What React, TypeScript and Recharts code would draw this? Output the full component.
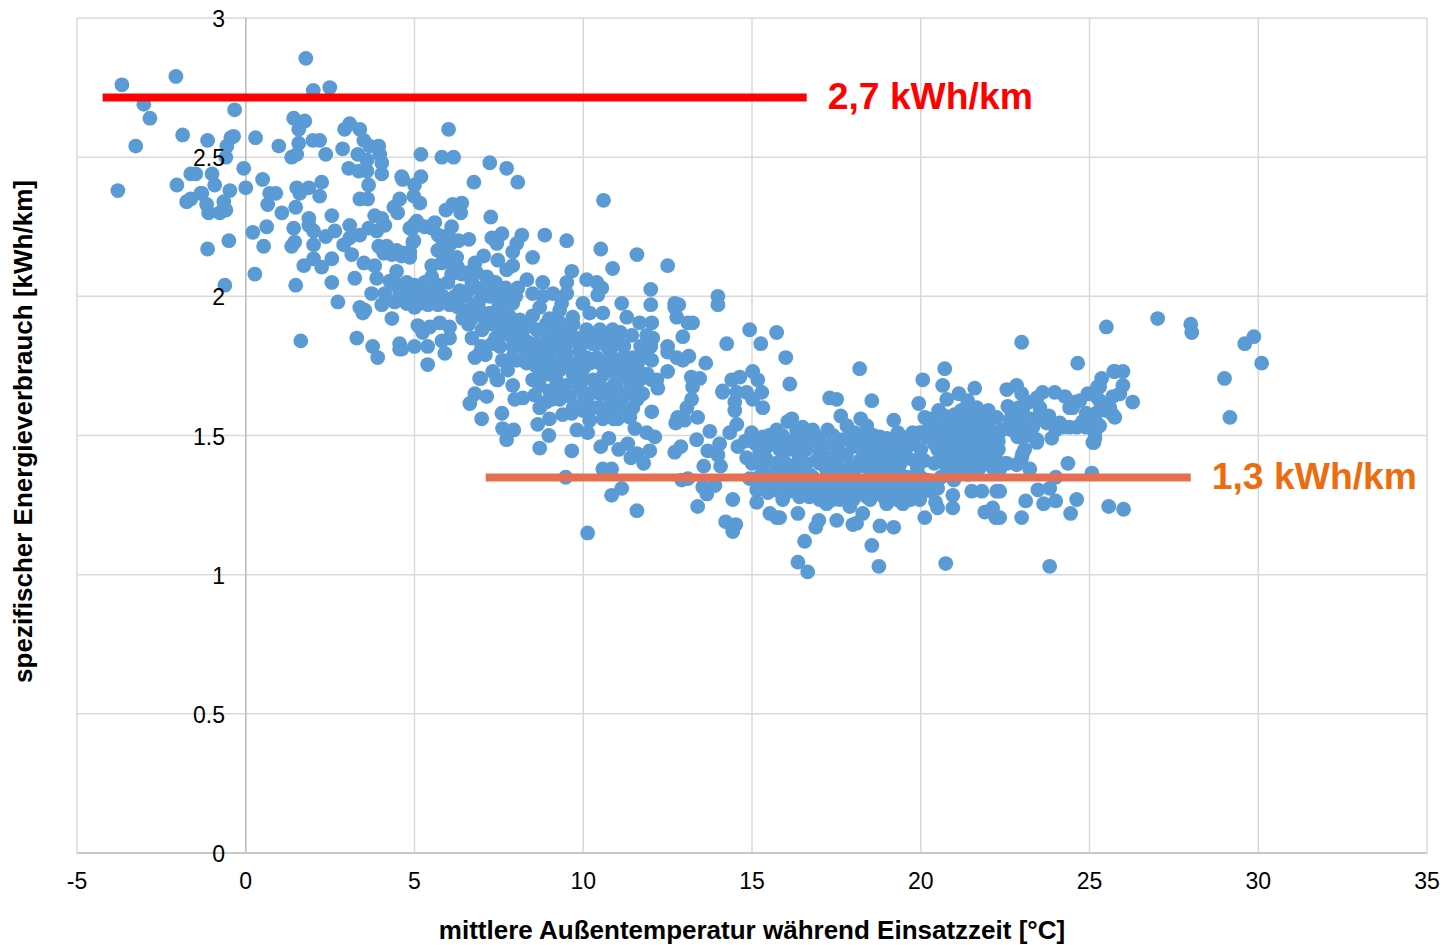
import React from 'react';
import { ScatterChart, Scatter, XAxis, YAxis, CartesianGrid, ReferenceLine } from 'recharts';

const xTicks = [-5, 0, 5, 10, 15, 20, 25, 30, 35];
const yTicks = [0, 0.5, 1, 1.5, 2, 2.5, 3];

const winterLevel = [{ temp: -4.24, energy: 2.714 }, { temp: 16.62, energy: 2.714 }];
const summerLevel = [{ temp: 7.11, energy: 1.349 }, { temp: 28.0, energy: 1.349 }];

// [temperature °C, kWh/km], grouped by temperature
const below0 = [
  [-3.79, 2.38], [-3.67, 2.76], [-3.02, 2.69], [-2.84, 2.64], [-3.26, 2.54], [-2.07, 2.79], [-1.87, 2.58], [-2.04, 2.4],
  [-1.75, 2.34], [-1.63, 2.35], [-1.63, 2.44], [-1.48, 2.44], [-1.33, 2.37], [-1.13, 2.56], [-1.16, 2.33], [-1.1, 2.3],
  [-1.0, 2.44], [-0.92, 2.4], [-1.13, 2.17], [-0.77, 2.3], [-0.65, 2.34], [-0.59, 2.31], [-0.47, 2.38], [-0.5, 2.2],
  [-0.62, 2.04], [-0.59, 2.5], [-0.56, 2.54], [-0.44, 2.57], [-0.36, 2.575], [-0.33, 2.67], [-0.06, 2.46], [-1.3, 2.37],
];
const from0to3 = [
  [0, 2.39], [0.5, 2.42], [0.29, 2.57], [0.27, 2.08], [0.21, 2.23], [0.62, 2.25], [0.53, 2.18], [0.71, 2.37], [0.89, 2.37],
  [0.65, 2.33], [0.98, 2.54], [1.07, 2.3], [1.42, 2.64], [1.75, 2.63], [1.57, 2.6], [1.57, 2.55], [1.51, 2.51], [1.36, 2.5],
  [1.99, 2.56], [2.19, 2.56], [2.37, 2.51], [2.87, 2.53], [1.78, 2.855], [2.0, 2.74], [2.49, 2.75], [1.48, 2.32], [1.51, 2.39],
  [1.6, 2.37], [1.87, 2.39], [2.25, 2.41], [2.19, 2.36], [2.55, 2.29], [1.42, 2.245], [1.45, 2.195], [1.36, 2.18], [1.87, 2.28],
  [1.87, 2.255], [2.01, 2.235], [2.01, 2.185], [2.37, 2.215], [2.64, 2.235], [1.72, 2.11], [2.01, 2.135], [2.25, 2.105],
  [2.55, 2.135], [1.48, 2.04], [2.55, 2.05], [2.73, 1.98], [1.63, 1.84], [2.9, 2.185],
];
const from3to5 = [
  [3.08, 2.62], [2.93, 2.6], [3.38, 2.6], [3.5, 2.56], [3.67, 2.54], [3.94, 2.54], [3.32, 2.51], [3.59, 2.49], [3.97, 2.51],
  [4.03, 2.48], [3.05, 2.46], [3.35, 2.45], [3.59, 2.45], [4.03, 2.44], [4.62, 2.43], [3.64, 2.4], [5.0, 2.4], [4.98, 2.36],
  [3.38, 2.35], [3.61, 2.35], [4.56, 2.35], [4.39, 2.32], [4.5, 2.3], [3.08, 2.255], [3.08, 2.21], [3.38, 2.22], [3.64, 2.245],
  [3.88, 2.235], [4.12, 2.255], [3.82, 2.29], [4.03, 2.28], [3.94, 2.18], [4.18, 2.18], [4.09, 2.155], [4.47, 2.165], [4.33, 2.15],
  [4.62, 2.145], [4.86, 2.16], [4.98, 2.2], [3.14, 2.15], [3.5, 2.12], [3.82, 2.11], [3.88, 2.065], [4.47, 2.09], [4.27, 2.055],
  [4.71, 2.04], [4.47, 2.04], [3.73, 2.01], [4.12, 2.01], [4.03, 1.97], [4.41, 1.98], [4.77, 1.975], [4.98, 2.02], [4.86, 2.245],
  [3.23, 2.065], [3.38, 1.96], [3.53, 1.95], [4.33, 1.92], [3.76, 1.82], [3.91, 1.78], [3.29, 1.85], [3.47, 1.94], [4.56, 1.83],
  [4.62, 1.81], [4.65, 2.42], [4.77, 2.05], [4.56, 2.01], [4.77, 1.975], [4.92, 2.01], [5.0, 1.82], [4.56, 1.81],
];
const from5to8 = [
  [5.07, 2.27], [5.19, 2.51], [5.81, 2.5], [6.16, 2.5], [6.01, 2.6], [7.23, 2.48], [7.73, 2.46], [8.06, 2.41], [6.76, 2.41],
  [5.19, 2.43], [5.16, 2.335], [5.93, 2.31], [6.13, 2.33], [6.4, 2.335], [6.37, 2.3], [7.26, 2.285], [5.0, 2.26], [4.95, 2.245],
  [5.3, 2.25], [5.6, 2.265], [5.51, 2.245], [6.1, 2.25], [6.61, 2.205], [7.29, 2.21], [7.59, 2.225], [7.44, 2.19], [7.91, 2.16],
  [7.05, 2.145], [7.47, 2.13], [6.79, 2.12], [7.73, 2.095], [7.91, 2.11], [5.51, 2.11], [5.51, 2.07], [5.16, 1.975], [5.24, 2.01],
  [5.54, 2.01], [5.84, 2.0], [5.99, 2.05], [6.34, 2.02], [6.04, 1.97], [5.84, 2.2], [5.69, 2.165], [6.04, 2.185], [6.25, 2.14],
  [5.96, 2.155], [6.28, 2.105], [6.58, 2.085], [6.84, 2.085], [7.14, 2.07], [7.32, 2.05], [6.99, 2.01], [7.23, 2.0], [7.61, 2.0],
  [7.91, 1.975], [6.93, 1.95], [7.23, 1.94], [7.61, 1.94], [7.11, 1.905], [6.43, 1.92], [6.04, 1.89], [5.75, 1.905], [5.45, 1.89],
  [5.1, 1.895], [5.24, 1.87], [6.04, 1.85], [5.81, 1.84], [5.39, 1.82], [5.9, 1.795], [5.39, 1.755], [6.7, 1.85], [6.99, 1.82],
  [6.79, 1.78], [6.93, 1.795], [7.47, 1.855], [7.82, 1.86], [7.91, 1.82], [7.53, 1.82], [6.93, 1.705], [7.32, 1.73], [7.47, 1.7],
  [7.76, 1.735], [7.91, 1.68], [6.96, 1.705], [7.44, 1.7], [7.97, 1.63], [7.14, 1.64], [6.79, 1.65], [6.64, 1.615], [6.99, 1.56],
  [7.59, 1.58], [7.61, 1.525], [7.94, 1.52], [7.73, 1.485], [7.0, 1.88], [7.4, 1.9], [7.8, 1.87], [6.6, 1.95], [6.9, 1.98],
  [7.5, 1.97], [7.3, 1.83], [7.1, 1.79], [7.6, 1.77], [7.9, 1.78], [6.6, 1.9], [7.7, 2.03], [7.4, 2.05], [6.7, 2.05], [6.5, 2.0],
  [6.3, 1.96],
];
const from8to12 = [
  [8.18, 2.22], [8.03, 2.19], [8.86, 2.22], [9.51, 2.2], [10.52, 2.17], [11.59, 2.15], [10.6, 2.345], [10.87, 2.1], [8.5, 2.14],
  [9.66, 2.09], [9.51, 2.05], [10.1, 2.06], [10.4, 2.05], [10.55, 2.03], [10.43, 2.005], [11.14, 1.975], [8.12, 1.915], [8.62, 1.88],
  [8.92, 1.85], [8.36, 1.835], [8.71, 1.82], [8.18, 1.82], [8.18, 1.77], [8.5, 1.78], [8.03, 1.77], [8.33, 1.76], [9.0, 1.76], [9.3, 1.735],
  [8.71, 1.96], [9.0, 1.92], [9.3, 1.905], [9.6, 1.88], [9.69, 1.925], [9.99, 1.975], [10.19, 1.94], [10.58, 1.94], [9.51, 2.01],
  [9.36, 1.975], [9.3, 1.95], [8.33, 2.06], [8.8, 2.05], [8.06, 2.03], [8.5, 2.01], [8.8, 2.0], [9.1, 2.01], [10.49, 1.88], [10.87, 1.88],
  [11.29, 1.925], [11.67, 1.905], [11.44, 1.86], [11.88, 1.86], [10.28, 1.83], [10.7, 1.82], [11.08, 1.83], [11.47, 1.78], [10.99, 1.77],
  [10.49, 1.76], [10.1, 1.78], [9.81, 1.76], [9.51, 1.795], [10.79, 1.735], [11.38, 1.71], [11.67, 1.7], [8.21, 1.635], [8.56, 1.645],
  [8.65, 1.54], [9.0, 1.56], [9.39, 1.575], [9.66, 1.58], [8.98, 1.5], [8.71, 1.455], [9.66, 1.445], [9.48, 1.35], [8.71, 1.6], [9.07, 1.63],
  [9.3, 1.63], [10.04, 1.645], [10.49, 1.65], [10.99, 1.67], [9.99, 1.59], [10.49, 1.6], [10.79, 1.6], [10.19, 1.555], [10.58, 1.56],
  [9.81, 1.52], [10.13, 1.51], [10.76, 1.49], [10.52, 1.46], [11.05, 1.45], [11.32, 1.47], [11.59, 1.435], [11.41, 1.42], [11.79, 1.4],
  [11.97, 1.445], [10.58, 1.38], [10.84, 1.38], [11.14, 1.31], [10.84, 1.285], [11.59, 1.23], [10.13, 1.15], [11.08, 1.615], [11.47, 1.6],
  [11.02, 1.56], [11.38, 1.565], [11.53, 1.525], [11.88, 1.51], [11.32, 1.71], [11.47, 1.665], [11.76, 1.65], [8.2, 1.87], [8.5, 1.93],
  [8.9, 1.9], [9.2, 1.85], [9.5, 1.83], [9.8, 1.85], [10.1, 1.88], [10.4, 1.83], [10.8, 1.8], [11.1, 1.87], [8.8, 1.79], [9.1, 1.8],
  [9.4, 1.77], [9.7, 1.72], [10.0, 1.74], [10.3, 1.7], [10.6, 1.72], [10.9, 1.68], [11.2, 1.72], [11.6, 1.75], [11.9, 1.78], [9.2, 1.7],
  [9.5, 1.68], [9.9, 1.67], [10.2, 1.65], [10.5, 1.68], [10.8, 1.63], [11.2, 1.64], [11.6, 1.63], [8.9, 1.72], [8.7, 1.68], [9.0, 1.66],
  [8.5, 1.7], [8.0, 2.0], [11.9, 1.72],
];
const from12to16 = [
  [12.5, 2.11], [12.0, 2.025], [12.0, 1.97], [13.99, 2.0], [13.99, 1.97], [12.71, 1.975], [12.83, 1.97], [12.71, 1.96], [12.77, 1.925],
  [13.1, 1.905], [13.24, 1.905], [12.95, 1.855], [14.25, 1.83], [12.5, 1.82], [12.5, 1.8], [12.77, 1.78], [12.95, 1.77], [13.13, 1.785],
  [13.63, 1.76], [12.03, 1.77], [12.5, 1.73], [13.2, 1.71], [13.45, 1.705], [13.24, 1.675], [14.4, 1.7], [14.13, 1.66], [12.03, 1.905],
  [12.06, 1.85], [12.18, 1.7], [12.03, 1.7], [12.21, 1.67], [12.03, 1.585], [12.12, 1.495], [13.21, 1.63], [13.07, 1.6], [12.8, 1.565],
  [12.74, 1.545], [13.39, 1.565], [13.0, 1.555], [15.26, 1.83], [14.93, 1.88], [14.13, 1.655], [14.64, 1.71], [15.02, 1.73], [15.17, 1.7],
  [15.29, 1.655], [14.55, 1.655], [14.84, 1.655], [15.02, 1.63], [15.32, 1.6], [14.49, 1.62], [14.49, 1.59], [13.75, 1.515], [13.36, 1.485],
  [12.89, 1.46], [12.71, 1.44], [14.55, 1.54], [14.34, 1.51], [14.04, 1.47], [13.69, 1.445], [13.99, 1.43], [14.07, 1.39], [13.57, 1.39],
  [14.99, 1.51], [15.32, 1.495], [15.73, 1.52], [15.91, 1.495], [14.58, 1.46], [14.84, 1.42], [15.23, 1.44], [15.44, 1.46], [15.82, 1.45],
  [14.43, 1.27], [13.39, 1.245], [14.22, 1.19], [14.52, 1.18], [14.43, 1.155], [12.92, 1.34], [13.1, 1.345], [13.54, 1.315], [13.66, 1.29],
  [13.9, 1.32], [14.93, 1.345], [15.14, 1.305], [15.14, 1.26], [15.47, 1.295], [15.67, 1.305], [15.91, 1.27], [15.53, 1.22], [15.73, 1.205],
  [15.82, 1.205], [15.5, 1.5], [15.6, 1.47], [15.9, 1.45], [15.4, 1.42], [15.7, 1.4], [15.3, 1.39], [15.6, 1.36], [15.9, 1.37], [15.2, 1.35],
  [15.5, 1.33], [15.8, 1.32], [15.3, 1.31], [15.73, 1.87], [16.0, 1.78],
];
const from16to20 = [
  [16.12, 1.685], [16.18, 1.56], [16.5, 1.53], [16.06, 1.55], [16.36, 1.22], [16.56, 1.12], [16.36, 1.045], [16.65, 1.01], [16.98, 1.195],
  [16.89, 1.17], [18.19, 1.74], [17.3, 1.635], [17.51, 1.63], [18.55, 1.625], [17.63, 1.57], [18.22, 1.56], [18.4, 1.535], [19.2, 1.555],
  [17.51, 1.195], [17.99, 1.18], [18.1, 1.185], [18.28, 1.22], [18.79, 1.175], [19.2, 1.17], [18.55, 1.105], [18.76, 1.03], [18.99, 1.255],
  [19.47, 1.255], [19.97, 1.27], [19.76, 1.28], [16.41, 1.28], [16.8, 1.295], [17.21, 1.255], [17.6, 1.27], [17.9, 1.245], [18.4, 1.28],
  [18.7, 1.295], [16.12, 1.315], [16.62, 1.315], [17.1, 1.315], [17.51, 1.295], [18.1, 1.305], [18.49, 1.315], [19.29, 1.295], [16.32, 1.52],
  [16.8, 1.52], [17.24, 1.52], [16.5, 1.47], [16.92, 1.48], [16.12, 1.45], [17.81, 1.535], [17.69, 1.485], [18.04, 1.51], [17.51, 1.465],
  [18.1, 1.47], [18.49, 1.47], [18.79, 1.495], [18.87, 1.46], [19.32, 1.51], [19.44, 1.495], [19.76, 1.51], [19.97, 1.51], [16.0, 1.4],
  [16.4, 1.42], [16.9, 1.41], [17.3, 1.42], [17.8, 1.43], [18.2, 1.41], [18.7, 1.42], [19.2, 1.41], [19.6, 1.42], [16.3, 1.37], [16.7, 1.36],
  [17.2, 1.38], [17.6, 1.37], [18.0, 1.36], [18.5, 1.38], [18.9, 1.37], [19.4, 1.36], [19.9, 1.38], [16.6, 1.45], [17.0, 1.44], [17.4, 1.47],
  [18.3, 1.44], [18.7, 1.45], [19.1, 1.44], [19.6, 1.46], [16.2, 1.33], [16.9, 1.33], [17.4, 1.33], [17.9, 1.32], [18.3, 1.33], [18.8, 1.34],
  [19.3, 1.33], [19.8, 1.32], [16.2, 1.47], [16.4, 1.43], [16.1, 1.3], [19.94, 1.615],
];
const from20to24 = [
  [20.06, 1.7], [20.71, 1.74], [20.65, 1.68], [20.77, 1.63], [21.13, 1.65], [21.6, 1.67], [20.53, 1.59], [20.12, 1.565], [20.27, 1.56],
  [21.39, 1.625], [21.36, 1.59], [21.66, 1.6], [21.0, 1.575], [22.0, 1.59], [22.25, 1.565], [22.55, 1.665], [22.84, 1.68], [22.99, 1.65],
  [22.58, 1.605], [23.61, 1.655], [23.97, 1.655], [23.44, 1.635], [23.53, 1.6], [23.02, 1.59], [22.99, 1.835], [20.12, 1.205], [20.5, 1.24],
  [20.95, 1.24], [20.44, 1.26], [20.95, 1.285], [20.74, 1.04], [21.51, 1.3], [21.81, 1.3], [22.25, 1.3], [21.9, 1.225], [22.13, 1.24],
  [22.22, 1.205], [23.11, 1.265], [23.64, 1.255], [22.99, 1.205], [23.82, 1.03], [22.34, 1.3], [22.34, 1.205], [20.47, 1.315], [20.5, 1.31],
  [20.98, 1.34], [20.18, 1.495], [20.1, 1.41], [20.0, 1.45], [20.2, 1.34], [20.6, 1.35], [20.4, 1.54], [20.8, 1.55], [21.2, 1.56], [21.6, 1.55],
  [22.0, 1.54], [22.4, 1.52], [20.3, 1.49], [20.7, 1.5], [21.1, 1.51], [21.5, 1.5], [21.9, 1.5], [22.3, 1.48], [20.5, 1.45], [20.9, 1.46],
  [21.3, 1.47], [21.7, 1.46], [22.1, 1.45], [20.6, 1.41], [21.0, 1.42], [21.4, 1.43], [21.8, 1.42], [22.2, 1.43], [20.8, 1.38], [21.2, 1.39],
  [21.6, 1.38], [21.0, 1.36], [21.4, 1.36], [23.02, 1.435], [22.87, 1.495], [23.44, 1.485], [23.88, 1.49], [23.14, 1.5], [23.73, 1.545],
  [22.55, 1.4], [22.84, 1.395], [22.13, 1.385], [21.75, 1.385], [20.77, 1.385], [21.15, 1.37], [22.64, 1.555], [22.93, 1.545], [23.14, 1.51],
  [23.44, 1.475], [22.93, 1.495], [23.08, 1.45], [22.99, 1.42], [22.49, 1.4], [22.34, 1.38], [23.23, 1.38], [23.47, 1.305], [23.82, 1.31],
  [23.32, 1.53],
];
const above24 = [
  [24.27, 1.64], [24.65, 1.76], [25.36, 1.705], [25.72, 1.73], [25.24, 1.675], [24.95, 1.65], [24.56, 1.62], [24.41, 1.6], [25.69, 1.64],
  [25.3, 1.625], [25.69, 1.575], [25.21, 1.545], [25.01, 1.555], [24.62, 1.53], [24.12, 1.545], [25.16, 1.49], [25.1, 1.475], [25.5, 1.89],
  [27.02, 1.92], [28.0, 1.9], [28.03, 1.87], [29.87, 1.855], [29.6, 1.83], [30.1, 1.76], [29.0, 1.705], [29.16, 1.565], [26.28, 1.62],
  [25.75, 1.73], [25.99, 1.73], [25.99, 1.68], [25.3, 1.675], [25.75, 1.565], [25.9, 1.65], [25.6, 1.6], [24.71, 1.625], [24.5, 1.6],
  [25.5, 1.59], [25.01, 1.565], [25.3, 1.535], [25.16, 1.51], [25.13, 1.475], [24.2, 1.53], [24.36, 1.4], [25.07, 1.365], [24.0, 1.35],
  [24.0, 1.265], [24.62, 1.27], [24.44, 1.22], [25.57, 1.245], [26.01, 1.235],
];
// points inside the solid parts of the cloud, estimated
const denseCold = [
  [4.95, 2.195], [4.65, 2.155], [4.86, 2.14], [5.7, 2.22], [6.0, 2.22], [6.3, 2.2], [5.8, 2.12], [6.1, 2.12], [6.4, 2.08], [6.1, 2.08],
  [4.6, 2.04], [5.0, 2.04], [5.3, 2.05], [5.7, 2.04], [6.2, 2.0], [5.0, 1.96], [5.4, 1.97], [5.7, 1.97], [6.6, 2.02], [6.8, 1.97],
  [7.0, 2.03], [7.2, 2.03], [7.5, 2.02], [7.8, 2.0], [6.7, 1.92], [7.0, 1.93], [7.4, 1.93], [7.8, 1.93], [7.9, 1.9], [7.3, 1.9], [7.6, 1.89],
  [7.4, 1.85], [8.0, 1.85], [8.4, 1.8], [8.6, 1.8], [8.9, 1.77], [9.1, 1.83],
];
const denseMid = [
  [8.3, 1.9], [8.6, 1.83], [8.9, 1.82], [9.1, 1.88], [9.4, 1.86], [9.7, 1.9], [9.9, 1.82], [10.2, 1.85], [10.6, 1.85], [10.9, 1.85], [11.2, 1.82],
  [11.3, 1.76], [11.7, 1.82], [12.0, 1.82], [8.6, 1.75], [8.8, 1.73], [9.1, 1.74], [9.3, 1.8], [9.6, 1.75], [9.9, 1.8], [10.2, 1.76], [10.4, 1.78],
  [10.7, 1.76], [11.0, 1.73], [11.2, 1.78], [11.5, 1.73], [11.7, 1.78], [9.3, 1.66], [9.6, 1.64], [9.8, 1.7], [10.0, 1.7], [10.3, 1.66], [10.7, 1.66],
  [11.0, 1.7], [11.4, 1.68], [11.1, 1.6], [10.9, 1.56], [10.3, 1.6], [10.0, 1.62], [9.7, 1.6], [8.9, 1.62], [14.8, 1.48], [15.1, 1.47], [15.0, 1.4], [15.3, 1.43],
];
const denseBand = [
  [15.9, 1.5], [16.3, 1.49], [16.7, 1.5], [17.0, 1.49], [17.4, 1.5], [17.9, 1.49], [18.3, 1.49], [18.6, 1.5], [19.0, 1.49], [19.2, 1.47], [19.8, 1.47],
  [15.9, 1.41], [16.2, 1.39], [16.6, 1.4], [17.0, 1.4], [17.5, 1.4], [17.9, 1.39], [18.3, 1.39], [18.7, 1.39], [19.1, 1.39], [19.4, 1.4], [19.8, 1.41],
  [16.4, 1.35], [16.8, 1.35], [17.3, 1.36], [17.7, 1.34], [18.1, 1.34], [18.6, 1.35], [19.1, 1.35], [19.6, 1.35], [20.0, 1.35], [16.0, 1.34], [16.5, 1.31],
  [16.9, 1.31], [17.3, 1.3], [17.7, 1.31], [18.2, 1.29], [18.6, 1.3], [19.0, 1.3], [19.5, 1.3], [20.0, 1.31], [20.3, 1.3], [16.7, 1.28], [17.0, 1.27],
  [17.4, 1.27], [17.8, 1.29], [18.0, 1.27], [18.5, 1.27], [18.9, 1.28], [19.3, 1.27], [19.7, 1.27], [17.1, 1.46], [17.6, 1.44], [18.0, 1.46], [18.5, 1.43],
  [18.9, 1.42], [19.3, 1.44], [19.4, 1.47],
];
const denseWarm = [
  [20.2, 1.52], [20.6, 1.52], [21.0, 1.53], [21.4, 1.53], [21.8, 1.52], [22.2, 1.51], [20.4, 1.47], [20.8, 1.48], [21.2, 1.49], [21.6, 1.48], [22.0, 1.47],
  [22.3, 1.45], [20.6, 1.43], [21.0, 1.44], [21.4, 1.45], [21.8, 1.44], [22.1, 1.41], [20.4, 1.4], [20.9, 1.4], [21.3, 1.41], [21.7, 1.4], [22.0, 1.41],
  [20.7, 1.57], [21.2, 1.59], [21.6, 1.57], [21.9, 1.57], [22.7, 1.52], [23.0, 1.53], [23.5, 1.56], [23.8, 1.57], [24.0, 1.52], [24.4, 1.53], [24.8, 1.55],
  [24.9, 1.58], [25.2, 1.58], [25.4, 1.6], [25.2, 1.64], [24.9, 1.53], [22.9, 1.6], [22.7, 1.58], [23.2, 1.62], [23.3, 1.56],
];

const allPoints = [
  ...below0, ...from0to3, ...from3to5, ...from5to8, ...from8to12, ...from12to16, ...from16to20, ...from20to24, ...above24,
  ...denseCold, ...denseMid, ...denseBand, ...denseWarm,
].map(([temp, energy]) => ({ temp, energy }));

const FONT = '"Liberation Sans", Arial, sans-serif';

const YTick = ({ y, payload }: any) => (
  <text x={225} y={y} dy={9} textAnchor="end" fontSize={23} fontFamily={FONT} fill="#000">{payload.value}</text>
);

const Dot = ({ cx, cy }: any) => <circle cx={cx} cy={cy} r={7.4} fill="#5b9bd5" />;
const NoDot = () => null;

const App = () => (
  <div style={{ position: 'absolute', left: 0, top: 0 }}>
    <ScatterChart width={1449} height={945} margin={{ top: 18, right: 22, bottom: 0, left: 0 }}>
      <CartesianGrid stroke="#d9d9d9" strokeWidth={1.5} />
      <XAxis
        type="number"
        dataKey="temp"
        domain={[-5, 35]}
        ticks={xTicks}
        interval={0}
        height={92}
        tickLine={false}
        axisLine={{ stroke: '#bfbfbf', strokeWidth: 1.5 }}
        tick={{ fontSize: 23, fontFamily: FONT, fill: '#000' }}
        tickMargin={14}
        label={{ value: 'mittlere Außentemperatur während Einsatzzeit [°C]', position: 'insideBottom', offset: 6, dx: 0, fontSize: 26, fontWeight: 700, fontFamily: FONT, fill: '#000' }}
      />
      <YAxis
        type="number"
        dataKey="energy"
        domain={[0, 3]}
        ticks={yTicks}
        interval={0}
        width={77}
        axisLine={false}
        tickLine={false}
        tick={<YTick />}
        label={{ value: 'spezifischer Energieverbrauch [kWh/km]', angle: -90, position: 'insideLeft', offset: 23, dy: -4, fontSize: 26, fontWeight: 700, fontFamily: FONT, fill: '#000', style: { textAnchor: 'middle' } }}
      />
      <ReferenceLine x={0} stroke="#bfbfbf" strokeWidth={1.5} />
      <Scatter data={allPoints} fill="#5b9bd5" shape={<Dot />} isAnimationActive={false} />
      {/* drawn as series so the bars lie on top of the dots */}
      <Scatter data={winterLevel} line={{ stroke: '#ff0000', strokeWidth: 8 }} shape={<NoDot />} isAnimationActive={false} />
      <Scatter data={summerLevel} line={{ stroke: '#e76f51', strokeWidth: 8 }} shape={<NoDot />} isAnimationActive={false} />
      <ReferenceLine
        segment={[{ x: winterLevel[0].temp, y: 2.714 }, { x: winterLevel[1].temp, y: 2.714 }]}
        stroke="none"
        label={{ value: '2,7 kWh/km', position: 'right', offset: 21, dy: -2, fontSize: 37.3, fontWeight: 700, fontFamily: FONT, fill: '#ff0000' }}
      />
      <ReferenceLine
        segment={[{ x: summerLevel[0].temp, y: 1.349 }, { x: summerLevel[1].temp, y: 1.349 }]}
        stroke="none"
        label={{ value: '1,3 kWh/km', position: 'right', offset: 21, dy: -2, fontSize: 37.3, fontWeight: 700, fontFamily: FONT, fill: '#ed6c0e' }}
      />
    </ScatterChart>
  </div>
);

export default App;
